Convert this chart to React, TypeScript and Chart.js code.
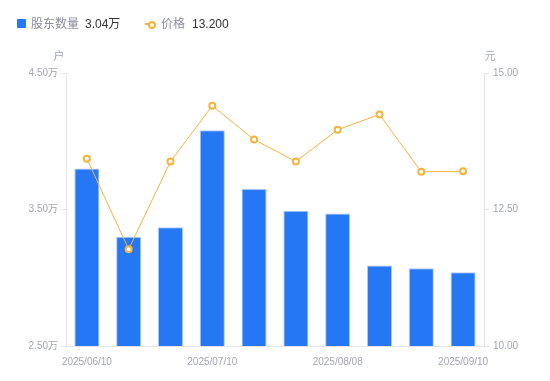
import React, { useEffect, useRef } from "react";
import { Chart, registerables } from "chart.js";

Chart.register(...registerables);

const dates = [
  "2025/06/10", "2025/06/20", "2025/06/30", "2025/07/10", "2025/07/20",
  "2025/07/31", "2025/08/08", "2025/08/20", "2025/08/31", "2025/09/10",
];
const holders = [3.8, 3.3, 3.37, 4.08, 3.65, 3.49, 3.47, 3.09, 3.07, 3.04];
const prices = [13.43, 11.77, 13.38, 14.4, 13.78, 13.38, 13.96, 14.24, 13.19, 13.2];
const leftTicks = [2.5, 3.5, 4.5];
const rightTicks = [10, 12.5, 15];

const BLUE = "#2677F3";
const ORANGE = "#F7B23B";
const TICK_COLOR = "#a3a6b4";
const AXIS_COLOR = "#e3e4e8";
const FONT = "'Liberation Sans', 'Noto Sans CJK SC', sans-serif";

export default function App() {
  const ref = useRef<HTMLCanvasElement | null>(null);

  useEffect(() => {
    document.body.style.margin = "0";
    const titlePlugin = {
      id: "axisTitles",
      afterDraw(chart: any) {
        const { ctx, chartArea } = chart;
        ctx.save();
        ctx.font = `11px ${FONT}`;
        ctx.fillStyle = TICK_COLOR;
        ctx.textAlign = "center";
        ctx.textBaseline = "middle";
        ctx.fillText("户", chartArea.left - 7, chartArea.top - 16);
        ctx.fillText("元", chartArea.right + 6, chartArea.top - 16);
        ctx.restore();
      },
    };
    const chart = new Chart(ref.current!, {
      type: "bar",
      data: {
        labels: dates,
        datasets: [
          {
            type: "line",
            label: "价格",
            data: prices,
            yAxisID: "y1",
            borderColor: ORANGE,
            borderWidth: 1,
            backgroundColor: "#fff",
            pointBackgroundColor: "#fff",
            pointBorderColor: ORANGE,
            pointBorderWidth: 2,
            pointRadius: 3,
            tension: 0,
            order: 0,
          } as any,
          {
            type: "bar",
            label: "股东数量",
            data: holders,
            yAxisID: "y",
            backgroundColor: BLUE,
            borderColor: "#a9c8f9",
            borderWidth: { top: 1, left: 1, right: 1, bottom: 0 },
            barPercentage: 0.6,
            categoryPercentage: 1,
            order: 1,
          } as any,
        ],
      },
      options: {
        animation: false,
        responsive: false,
        maintainAspectRatio: false,
        layout: { padding: { top: 73, left: 0, right: 0, bottom: 0 } },
        plugins: { legend: { display: false }, tooltip: { enabled: false } },
        scales: {
          x: {
            grid: { display: false },
            border: { display: true, color: AXIS_COLOR },
            ticks: {
              autoSkip: false,
              maxRotation: 0,
              color: TICK_COLOR,
              font: { size: 10, family: FONT },
              padding: 2,
              callback: (_v: any, i: number) => (i % 3 === 0 ? dates[i] : ""),
            },
            afterFit: (s: any) => { s.height = 35; },
          },
          y: {
            position: "left",
            min: 2.5,
            max: 4.5,
            afterBuildTicks: (s: any) => { s.ticks = leftTicks.map((v) => ({ value: v })); },
            grid: { drawOnChartArea: false, color: AXIS_COLOR, tickLength: 5 },
            border: { display: true, color: AXIS_COLOR },
            ticks: {
              color: TICK_COLOR,
              font: { size: 10, family: FONT },
              padding: 3,
              callback: (v: any) => Number(v).toFixed(2) + "万",
            },
            afterFit: (s: any) => { s.width = 66; },
          },
          y1: {
            position: "right",
            min: 10,
            max: 15,
            afterBuildTicks: (s: any) => { s.ticks = rightTicks.map((v) => ({ value: v })); },
            grid: { drawOnChartArea: false, color: AXIS_COLOR, tickLength: 5 },
            border: { display: true, color: AXIS_COLOR },
            ticks: {
              color: TICK_COLOR,
              font: { size: 10, family: FONT },
              padding: 4,
              callback: (v: any) => Number(v).toFixed(2),
            },
            afterFit: (s: any) => { s.width = 66; },
          },
        },
      } as any,
      plugins: [titlePlugin],
    });
    return () => chart.destroy();
  }, []);

  const lastHolders = holders[holders.length - 1].toFixed(2) + "万";
  const lastPrice = prices[prices.length - 1].toFixed(3);
  const textStyle: React.CSSProperties = {
    position: "absolute",
    top: 16,
    fontSize: 12,
    lineHeight: "16px",
    fontFamily: FONT,
    whiteSpace: "nowrap",
  };

  return (
    <div style={{ position: "fixed", left: 0, top: 0, width: 550, height: 381, background: "#fff" }}>
      <canvas ref={ref} width={550} height={381} style={{ position: "absolute", left: 0, top: 0 }} />
      <div style={{ position: "absolute", left: 17, top: 19, width: 9, height: 9, background: BLUE, borderRadius: 1 }} />
      <span style={{ ...textStyle, left: 31, color: "#8a8d99" }}>股东数量</span>
      <span style={{ ...textStyle, left: 85, color: "#333" }}>{lastHolders}</span>
      <div style={{ position: "absolute", left: 145, top: 23, width: 11, height: 2, background: ORANGE }} />
      <div style={{ position: "absolute", left: 147.5, top: 20.5, width: 4, height: 4, border: `2px solid ${ORANGE}`, borderRadius: "50%", background: "#fff" }} />
      <span style={{ ...textStyle, left: 161, color: "#8a8d99" }}>价格</span>
      <span style={{ ...textStyle, left: 192, color: "#333" }}>{lastPrice}</span>
    </div>
  );
}
